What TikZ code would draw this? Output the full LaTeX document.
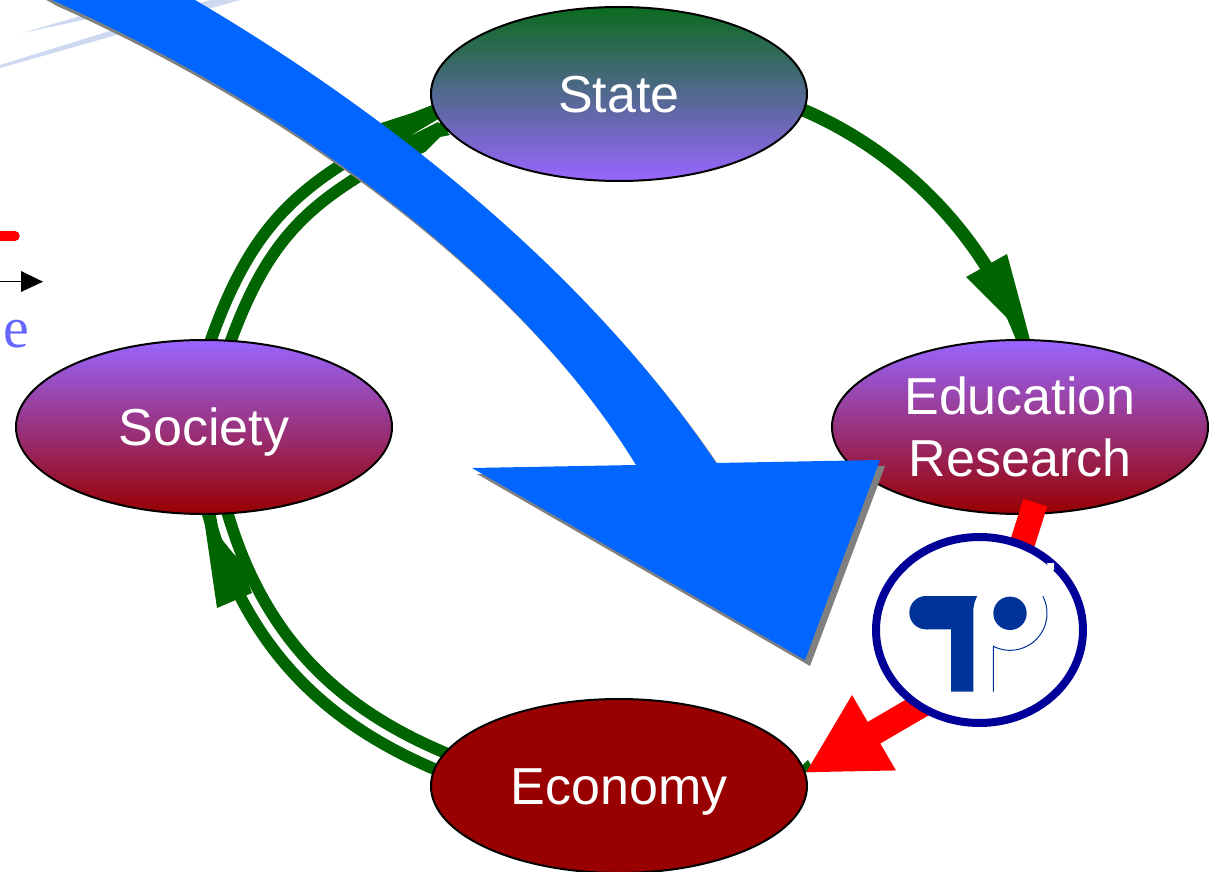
\documentclass[tikz,border=0pt]{standalone}
\usepackage{fontspec}
\setmainfont{Liberation Sans}
\newfontfamily\serifnote{Liberation Serif}
\usetikzlibrary{shapes.geometric,arrows.meta,backgrounds}
\definecolor{dgreen}{HTML}{006400}
\definecolor{topgreen}{HTML}{0B6B1F}
\definecolor{lilac}{HTML}{9966FF}
\definecolor{dred}{HTML}{990000}
\definecolor{midmag}{HTML}{9A3A98}
\definecolor{bigblue}{HTML}{0066FF}
\definecolor{logoblue}{HTML}{003399}
\definecolor{ringblue}{HTML}{000099}
\definecolor{pale}{HTML}{CCD9F0}
\definecolor{notec}{HTML}{6666FF}
\tikzset{
  x=1pt,y=-1pt,
  oval/.style={ellipse,draw=black,line width=2pt,minimum width=376pt,minimum height=174pt,
    inner sep=0pt,outer sep=0pt,text=white,align=center,font=\fontsize{52}{62}\selectfont},
  oneline/.style={text height=37pt,text depth=0pt},
  statefill/.style={top color=topgreen,bottom color=lilac},
  midfill/.style={top color=lilac,middle color=midmag,bottom color=dred},
  ecofill/.style={fill=dred},
  singlearc/.style={draw=dgreen,line width=13pt,shorten <=-6pt,shorten >=-6pt},
  doublearc/.style={draw=dgreen,line width=12pt,double=white,double distance=7pt,shorten <=-8pt,shorten >=-8pt},
  redarc/.style={draw=red,line width=25pt,-{Triangle[length=80pt,width=81pt]}},
}
\begin{document}
\begin{tikzpicture}
\useasboundingbox (0,0) rectangle (1219,872);
% leftovers at the edge
\fill[pale] (22,33) -- (136,0) -- (177,0) -- cycle;
\fill[pale] (0,65) -- (210,0) -- (240,0) -- (0,68) -- cycle;
\draw[red,line width=9.5pt,line cap=round] (-10,236) -- (15,236);
\draw[black,line width=1.2pt] (-5,281.7) -- (22,281.7);
\fill[black] (21,271) -- (43,281.7) -- (21,292) -- cycle;
\node[anchor=base west,inner sep=0pt,text=notec,font=\serifnote\fontsize{58}{58}\selectfont] (notee) at (3,347) {e};
% nodes
\node[oval,oneline,statefill] (stat) at (619,94) {State};
\node[oval,oneline,midfill] (soc) at (204,427) {Society};
\node[oval,midfill] (edu) at (1020,427) {\raisebox{-1pt}{Education}\\\raisebox{-1pt}{Research}};
\node[oval,oneline,ecofill] (eco) at (619,786) {Economy};
% green connectors beneath the ovals
\begin{pgfonlayer}{background}
\fill[dgreen] (795,772) -- (808,760) -- (815,772) -- cycle;
\draw[singlearc] (stat.-5) .. controls (900,150) and (985,235) .. (edu.88);
\fill[dgreen] (966,277) -- (1007,254) -- (1024,317) -- (1030,340) -- (1016,340) -- (1012,323) -- cycle;
\draw[doublearc] (soc.79) .. controls (268,205) and (323,185) .. (stat.188);
\fill[dgreen] (375,125) -- (412,113) -- (432,105) -- (440,110) -- (436,113) -- (440,118)
  -- (408,137) -- (438,122) -- (450,135) -- (440,137) -- (425,152) -- (395,165) -- cycle;
\draw[doublearc] (eco.172) .. controls (340,720) and (255,650) .. (soc.-81);
\fill[dgreen] (202,505) -- (217,608) -- (252,593) -- (240,560) -- (232,552) -- (220,537) -- (214,505) -- cycle;
\end{pgfonlayer}
% red connector through the logo (its bend is hidden by the logo)
\coordinate (redstart) at ([yshift=11pt]edu.-80);
\coordinate (redbendA) at (990,645);
\coordinate (redbendB) at (985,668);
\draw[redarc] (redstart) -- (redbendA) -- (redbendB) -- (eco.4.7);
% logo
\node[ellipse,draw=ringblue,fill=white,line width=8pt,minimum width=207pt,minimum height=186pt,inner sep=0pt,outer sep=0pt] (logo) at (979.5,630) {};
\fill[white] (1047,563) -- (1054,563) -- (1054,570) -- (1049,570) -- cycle;
\fill[logoblue] (926,596) -- (977.3,596) .. controls (974.5,601) and (973.3,606) .. (973.3,612)
  -- (973.3,691.7) -- (951,691.7) -- (951,629.3) -- (926,629.3) -- cycle;
\fill[logoblue] (926,612.65) circle[radius=16.7];
\fill[logoblue] (1010,613.3) circle[radius=16.7];
\draw[logoblue,line width=1pt] (993.3,691.7) -- (993.3,645.7)
  plot[smooth,domain=-117:27.5,samples=30] ({1010+37*cos(\x)},{613.3-37*sin(\x)});
% big blue arrow with its shadow
\def\bigarrow{(20,-18) -- (52,0) .. controls (265,95) and (510,260) .. (636,465) -- (472,468) -- (805,660) -- (880,460) -- (716,463)
  .. controls (570,245) and (340,85) .. (195,0) -- (160,-20) -- cycle}
\fill[gray] [shift={(5,6)}] \bigarrow;
\fill[bigblue] \bigarrow;
\end{tikzpicture}
\end{document}
